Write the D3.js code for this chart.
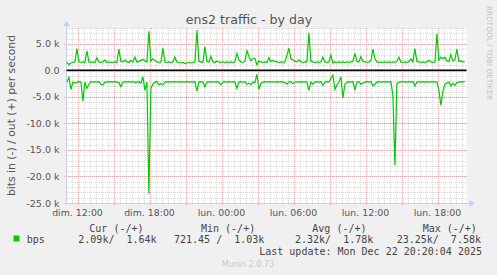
<!DOCTYPE html>
<html lang="fr">
<head>
<meta charset="UTF-8">
<title>ens2 traffic - by day</title>
<script src="https://d3js.org/d3.v7.min.js"></script>
<style>
  body { margin: 0; background: #f0f0f0; }
  svg { display: block; }
  .sans { font-family: "DejaVu Sans", sans-serif; fill: #555; }
  .mono { font-family: "DejaVu Sans Mono", monospace; fill: #444; font-size: 10px; }
</style>
</head>
<body>
<svg id="chart" width="497" height="275"></svg>
<script>
// valeurs, en kbit/s, un point toutes les 10 minutes
const outValues = [
  1.5, 1.1, 1.4, 1.5, 1.6, 4.1, 1.6, 1.5, 1.6, 1.5,
  3.7, 1.6, 1.5, 1.6, 1.5, 2.4, 1.6, 1.5, 1.6, 2.0,
  1.5, 1.6, 1.5, 1.5, 1.6, 1.5, 4.0, 1.7, 1.6, 2.0,
  1.6, 1.5, 1.9, 1.6, 2.5, 1.6, 1.7, 1.9, 2.1, 1.8,
  1.6, 7.4, 1.7, 2.2, 1.9, 1.6, 1.5, 1.6, 4.2, 1.6,
  1.5, 1.6, 1.5, 1.6, 2.5, 1.6, 1.5, 1.4, 1.5, 1.3,
  1.4, 1.5, 1.4, 1.5, 1.6, 7.58, 1.7, 1.6, 1.5, 4.5,
  1.7, 1.6, 2.65, 1.6, 1.5, 1.8, 1.6, 1.5, 1.6, 1.5,
  1.6, 1.5, 1.6, 1.5, 1.6, 3.2, 2.0, 1.6, 1.5, 1.7,
  3.8, 2.6, 1.8, 2.3, 2.3, 1.03, 1.8, 1.6, 1.5, 1.6,
  1.5, 2.4, 1.7, 1.9, 1.7, 1.6, 1.5, 1.6, 1.5, 1.6,
  2.85, 4.2, 2.2, 2.0, 1.7, 1.6, 2.0, 1.6, 1.5, 1.6,
  1.6, 7.1, 1.7, 1.6, 1.5, 1.6, 1.5, 1.6, 2.5, 1.6,
  1.5, 1.6, 2.9, 1.4, 1.6, 1.5, 1.6, 1.5, 1.6, 1.5,
  1.6, 1.5, 1.6, 1.7, 3.2, 1.7, 1.6, 2.6, 1.7, 1.6,
  1.5, 1.6, 1.8, 4.0, 2.2, 1.6, 1.5, 1.6, 1.5, 1.6,
  1.5, 1.6, 1.5, 1.6, 1.5, 1.7, 2.5, 1.6, 1.5, 1.6,
  1.5, 1.7, 2.2, 1.6, 4.1, 1.7, 1.6, 1.5, 1.6, 1.5,
  1.6, 1.9, 1.6, 1.5, 1.6, 6.9, 2.0, 2.5, 2.2, 2.5,
  1.8, 1.7, 3.0, 1.8, 2.0, 4.0, 1.7, 1.8, 1.6, 1.64
];
const inValues = [
  2.2, 1.3, 3.6, 2.2, 2.4, 2.3, 2.1, 2.2, 5.8, 2.2,
  3.4, 2.6, 2.1, 2.2, 2.1, 2.2, 2.1, 2.6, 2.7, 2.2,
  2.1, 2.2, 2.1, 2.2, 2.1, 2.2, 2.3, 3.1, 2.2, 2.1,
  2.2, 2.1, 2.2, 2.1, 2.3, 2.2, 2.1, 2.4, 1.2, 3.75,
  2.2, 23.25, 3.4, 2.6, 2.2, 2.1, 2.7, 2.5, 2.7, 2.2,
  2.1, 2.2, 2.1, 2.2, 2.1, 2.2, 2.1, 2.2, 2.1, 2.2,
  2.1, 2.2, 2.1, 2.2, 2.1, 3.9, 2.2, 2.1, 2.2, 3.1,
  2.2, 2.1, 2.2, 2.1, 2.2, 2.1, 2.2, 2.7, 2.2, 2.1,
  2.2, 2.1, 2.2, 2.1, 2.2, 3.4, 2.2, 2.1, 2.2, 2.1,
  2.6, 2.4, 2.7, 2.2, 2.3, 0.72, 3.6, 2.5, 2.2, 2.1,
  2.2, 2.1, 2.2, 2.1, 2.2, 2.1, 2.2, 2.1, 2.2, 2.3,
  2.6, 2.2, 2.1, 2.5, 2.2, 2.1, 2.2, 2.1, 2.2, 2.1,
  2.2, 3.75, 2.2, 2.6, 2.2, 2.1, 2.2, 2.1, 2.8, 2.2,
  2.1, 2.2, 1.5, 0.9, 3.6, 2.8, 2.2, 1.2, 5.2, 2.6,
  2.2, 2.1, 2.2, 2.1, 3.7, 2.2, 2.1, 2.6, 2.4, 2.2,
  2.1, 2.2, 2.1, 2.9, 2.6, 2.2, 2.1, 2.2, 2.1, 2.2,
  2.1, 2.2, 2.1, 4.7, 17.9, 2.5, 2.2, 2.1, 2.2, 2.1,
  2.2, 2.1, 2.2, 2.1, 2.9, 2.2, 2.1, 2.2, 2.1, 2.2,
  2.1, 2.2, 2.1, 2.2, 2.1, 2.2, 3.75, 6.6, 4.0, 2.6,
  2.4, 2.2, 2.9, 2.4, 2.8, 2.3, 2.2, 2.1, 2.2, 2.09
];
const yTicks = [5, 0, -5, -10, -15, -20, -25];
const yTickLabels = ["5.0 k", "0.0", "-5.0 k", "-10.0 k", "-15.0 k", "-20.0 k", "-25.0 k"];
const xTickLabels = ["dim. 12:00", "dim. 18:00", "lun. 00:00", "lun. 06:00", "lun. 12:00", "lun. 18:00"];
const legendHeads = ["Cur (-/+)", "Min (-/+)", "Avg (-/+)", "Max (-/+)"];
const legendValues = ["2.09k/  1.64k", "721.45 /  1.03k", "2.32k/  1.78k", "23.25k/  7.58k"];

const dataStart = new Date(2025, 11, 21, 11, 7);
const times = outValues.map((d, i) => d3.timeMinute.offset(dataStart, i * 10));

const svg = d3.select("#chart");
const pLeft = 66.5, pRight = 466.5, pTop = 28, pBottom = 203;

const x = d3.scaleTime()
  .domain([new Date(2025, 11, 21, 11, 5), new Date(2025, 11, 22, 20, 25)])
  .range([pLeft, pRight]);
const y = d3.scaleLinear().domain([-25, 8]).range([pBottom, pTop]);

// fond du graphe
svg.append("rect").attr("x", pLeft).attr("y", pTop)
  .attr("width", pRight - pLeft).attr("height", pBottom - pTop).attr("fill", "#fff");

// grille mineure
const minorX = x.ticks(d3.timeMinute.every(30));
const minorY = d3.range(-25, 9, 1);
const grid = svg.append("g").attr("stroke-width", 1).attr("shape-rendering", "crispEdges");
grid.selectAll(".vx").data(minorX).enter().append("line")
  .attr("x1", d => Math.round(x(d)) + 0.5).attr("x2", d => Math.round(x(d)) + 0.5)
  .attr("y1", pTop).attr("y2", pBottom)
  .attr("stroke", "#d9d9d9").attr("stroke-dasharray", "1,1");
grid.selectAll(".hy").data(minorY).enter().append("line")
  .attr("x1", pLeft).attr("x2", pRight)
  .attr("y1", d => Math.round(y(d)) + 0.5).attr("y2", d => Math.round(y(d)) + 0.5)
  .attr("stroke", "#d9d9d9").attr("stroke-dasharray", "1,1");

// grille majeure
const majorX = x.ticks(d3.timeHour.every(3));
grid.selectAll(".mx").data(majorX).enter().append("line")
  .attr("x1", d => Math.round(x(d)) + 0.5).attr("x2", d => Math.round(x(d)) + 0.5)
  .attr("y1", pTop).attr("y2", pBottom + 3)
  .attr("stroke", "#e8aaaa").attr("stroke-dasharray", "1,1");
grid.selectAll(".my").data(yTicks).enter().append("line")
  .attr("x1", pLeft - 3).attr("x2", pRight)
  .attr("y1", d => Math.round(y(d)) + 0.5).attr("y2", d => Math.round(y(d)) + 0.5)
  .attr("stroke", "#e8aaaa").attr("stroke-dasharray", "1,1");

// axes et flèches
svg.append("line").attr("x1", pLeft).attr("x2", pRight + 4)
  .attr("y1", pBottom + 0.5).attr("y2", pBottom + 0.5).attr("stroke", "#c8cdf2");
svg.append("line").attr("x1", pLeft).attr("x2", pLeft)
  .attr("y1", pBottom).attr("y2", pTop - 4).attr("stroke", "#c8cdf2");
svg.append("path").attr("d", `M${pRight + 3},${pBottom - 3} L${pRight + 8},${pBottom + 0.5} L${pRight + 3},${pBottom + 4} Z`)
  .attr("fill", "#c8cdf2");
svg.append("path").attr("d", `M${pLeft - 3.5},${pTop - 2} L${pLeft},${pTop - 7} L${pLeft + 3.5},${pTop - 2} Z`)
  .attr("fill", "#c8cdf2");

// ligne zéro
svg.append("line").attr("x1", pLeft).attr("x2", pRight)
  .attr("y1", y(0)).attr("y2", y(0)).attr("stroke", "#000").attr("stroke-width", 1.6);

// séries
const line = d3.line().x((d, i) => x(times[i])).y(d => y(d));
svg.append("path").datum(outValues).attr("d", line)
  .attr("fill", "none").attr("stroke", "#00cc00").attr("stroke-width", 1.2);
svg.append("path").datum(inValues.map(v => -v)).attr("d", line)
  .attr("fill", "none").attr("stroke", "#00cc00").attr("stroke-width", 1.2);

// étiquettes des axes
const xLabelTimes = xTickLabels.map((d, i) => d3.timeHour.offset(new Date(2025, 11, 21, 12), i * 6));
svg.append("g").selectAll("text").data(xLabelTimes).enter().append("text")
  .attr("class", "sans").attr("x", d => x(d)).attr("y", 216)
  .attr("text-anchor", "middle").attr("font-size", "9.4px")
  .text((d, i) => xTickLabels[i]);
svg.append("g").selectAll("text").data(yTicks).enter().append("text")
  .attr("class", "sans").attr("x", 59.5).attr("y", d => y(d) + 3.5)
  .attr("text-anchor", "end").attr("font-size", "9.5px")
  .text((d, i) => yTickLabels[i]);

svg.append("text").attr("class", "sans")
  .attr("transform", `translate(15,${(pTop + pBottom) / 2}) rotate(-90)`)
  .attr("text-anchor", "middle").attr("font-size", "10.8px")
  .text("bits in (-) / out (+) per second");

// titre
svg.append("text").attr("class", "sans").attr("x", 249).attr("y", 24)
  .attr("text-anchor", "middle").attr("font-size", "12.6px")
  .text("ens2 traffic - by day");

svg.append("text").attr("transform", "translate(486.5,53) rotate(90)")
  .attr("text-anchor", "middle").attr("font-family", "DejaVu Sans, sans-serif")
  .attr("font-size", "7.3px").attr("fill", "#c4c4c4")
  .text("RRDTOOL / TOBI OETIKER");

// légende
const headX = [89.3, 201, 312.3, 422.7];
const valX = [78.3, 174, 295, 396.7];
const lg = svg.append("g").attr("class", "mono");
legendHeads.forEach((h, i) => {
  lg.append("text").attr("x", headX[i]).attr("y", 232).style("white-space", "pre").text(h);
});
legendValues.forEach((v, i) => {
  lg.append("text").attr("x", valX[i]).attr("y", 243).style("white-space", "pre").text(v);
});
svg.append("rect").attr("x", 13.5).attr("y", 235.5).attr("width", 6).attr("height", 6)
  .attr("fill", "#00cc00");
lg.append("text").attr("x", 26.7).attr("y", 243).text("bps");
lg.append("text").attr("x", 482).attr("y", 254.5).attr("text-anchor", "end")
  .style("white-space", "pre").text("Last update: Mon Dec 22 20:20:04 2025");

svg.append("text").attr("x", 248).attr("y", 267).attr("text-anchor", "middle")
  .attr("font-family", "DejaVu Sans, sans-serif").attr("font-size", "8px").attr("fill", "#c8c8c8")
  .text("Munin 2.0.73");
</script>
</body>
</html>
